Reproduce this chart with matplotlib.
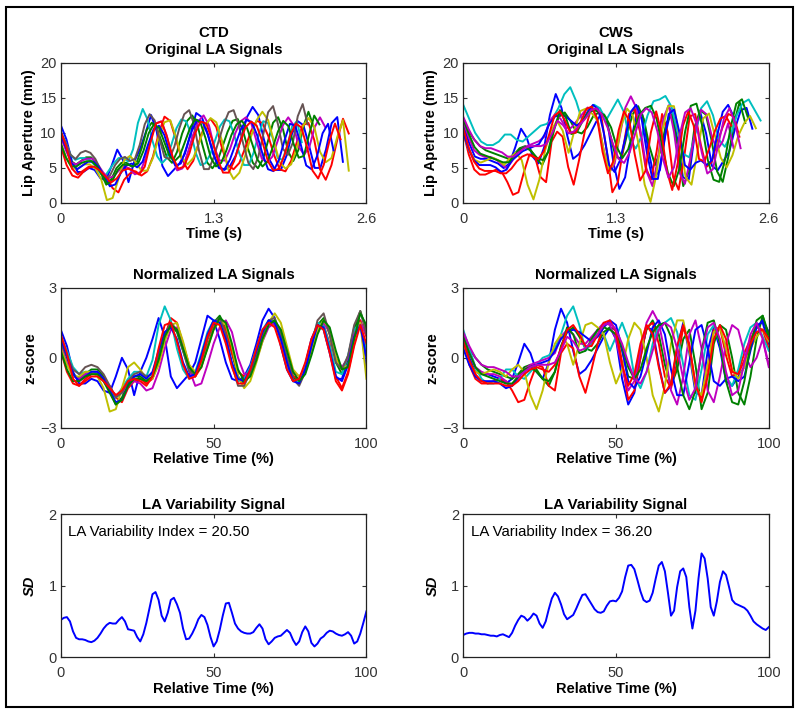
import numpy as np
import matplotlib
matplotlib.use('Agg')
import matplotlib.pyplot as plt
from matplotlib.patches import Rectangle

# relative time grids (percent)
rel_time = np.arange(0, 101, 2)
sd_time = np.arange(0, 101, 1)

# ---- CTD: normalized LA signals (z-score, every 2 %) ----
ctd_blue1 = [1.2, 0.5, -0.6, -1.1, -1.1, -0.9, -1.0, -1.4, -1.5, -0.8,
             0.0, -0.5, -1.6, -0.6, 0.0, 0.8, 1.7, 0.9, -0.8, -1.3,
             -1.0, -0.7, -0.2, 0.8, 1.8, 1.6, 0.8, -0.2, -0.9, -1.0,
             -0.8, -0.3, 0.6, 1.6, 2.1, 1.7, 0.5, -0.5, -1.0, -1.0,
             -0.3, 0.8, 1.4, 1.2, 0.2, -0.9, -0.9, 0.0, 1.3, 1.6, -0.6]
ctd_green1 = [0.7, 0.0, -0.7, -0.9, -0.7, -0.5, -0.5, -0.8, -1.4, -2.0,
              -1.7, -1.1, -0.8, -0.8, -1.0, -0.8, 0.0, 1.0, 1.4, 1.1,
              0.3, -0.5, -0.8, -0.2, 0.8, 1.5, 1.8, 1.3, 0.2, -0.8,
              -1.1, -0.7, 0.1, 0.9, 1.5, 1.6, 1.0, 0.0, -0.8, -1.1,
              -0.6, 0.4, 1.4, 1.7, 1.0, -0.2, -0.7, -0.1, 1.2, 2.0, 1.2]
ctd_red1 = [0.3, -0.6, -1.1, -1.2, -0.9, -0.7, -0.7, -0.9, -1.2, -1.7,
            -1.9, -1.3, -1.0, -0.9, -1.1, -0.9, -0.2, 0.9, 1.7, 1.5,
            0.6, -0.3, -0.8, -0.4, 0.5, 1.3, 1.6, 1.2, 0.2, -0.6,
            -0.8, -0.5, 0.2, 1.0, 1.5, 1.4, 0.8, -0.1, -0.8, -0.9,
            -0.4, 0.5, 1.3, 1.4, 0.6, -0.8, -1.3, -0.6, 0.6, 1.6, 0.9]
ctd_cyan = [0.9, 0.3, -0.4, -0.7, -0.6, -0.6, -0.7, -1.0, -1.4, -1.7,
            -1.3, -0.9, -0.6, -0.6, -0.8, -0.1, 1.4, 2.2, 1.6, 0.4,
            -0.5, -0.9, -0.6, 0.2, 1.1, 1.6, 1.5, 0.8, -0.3, -1.0,
            -0.9, -0.4, 0.4, 1.2, 1.6, 1.5, 0.7, -0.3, -1.0, -1.0,
            -0.3, 0.7, 1.5, 1.4, 0.5, -0.6, -0.7, 0.1, 1.2, 1.5, 0.3]
ctd_magenta = [0.5, -0.2, -0.8, -0.9, -0.7, -0.6, -0.6, -0.9, -1.3, -1.6,
               -1.5, -1.2, -1.0, -1.1, -1.4, -1.3, -0.6, 0.4, 1.2, 1.3,
               0.6, -0.5, -1.2, -1.1, -0.3, 0.6, 1.3, 1.6, 1.1, 0.0,
               -0.7, -0.7, -0.1, 0.7, 1.3, 1.5, 1.2, 0.3, -0.6, -0.8,
               -0.5, 0.3, 1.1, 1.5, 1.1, 0.0, -0.4, 0.0, 1.0, 1.5, 1.0]
ctd_yellow = [0.4, -0.3, -0.8, -0.8, -0.6, -0.6, -0.8, -1.3, -2.3, -2.2,
              -1.3, -0.4, -0.2, -0.5, -0.9, -0.9, -0.3, 0.7, 1.4, 1.5,
              0.7, -0.3, -0.6, -0.3, 0.4, 1.2, 1.6, 1.4, 0.5, -0.8,
              -1.3, -1.0, -0.2, 0.7, 1.5, 1.9, 1.5, 0.5, -0.5, -0.8,
              -0.6, 0.2, 1.2, 1.6, 1.2, 0.0, -0.5, -0.3, 0.7, 1.5, -0.9]
ctd_gray = [0.6, 0.1, -0.5, -0.7, -0.4, -0.3, -0.4, -0.7, -1.2, -1.7,
            -1.5, -1.0, -0.7, -0.6, -0.8, -0.7, 0.0, 1.0, 1.5, 1.2,
            0.3, -0.6, -0.7, -0.1, 0.8, 1.5, 1.7, 1.0, -0.3, -1.2,
            -1.2, -0.6, 0.2, 1.0, 1.6, 1.7, 1.0, 0.0, -0.9, -1.2,
            -0.6, 0.5, 1.6, 1.9, 1.0, -0.2, -0.5, 0.1, 1.4, 2.0, 1.0]
ctd_blue2 = [0.8, 0.1, -0.7, -1.0, -0.8, -0.6, -0.6, -0.9, -1.4, -1.9,
             -1.8, -1.2, -0.8, -0.7, -0.9, -0.6, 0.3, 1.1, 1.3, 0.8,
             -0.2, -0.8, -0.7, 0.1, 1.0, 1.6, 1.5, 0.8, -0.2, -0.9,
             -1.0, -0.5, 0.3, 1.1, 1.6, 1.5, 0.8, -0.2, -1.0, -1.1,
             -0.5, 0.5, 1.4, 1.3, 0.3, -0.8, -1.0, -0.3, 0.9, 1.4, 0.0]
ctd_green2 = [0.3, -0.5, -1.0, -1.0, -0.8, -0.7, -0.7, -1.0, -1.5, -2.0,
              -1.8, -1.2, -0.9, -0.9, -1.0, -0.8, -0.1, 0.9, 1.4, 1.2,
              0.4, -0.4, -0.7, -0.4, 0.4, 1.2, 1.7, 1.5, 0.6, -0.5,
              -1.0, -0.8, -0.1, 0.8, 1.4, 1.6, 1.2, 0.3, -0.6, -1.0,
              -0.7, 0.1, 1.0, 1.6, 1.3, 0.3, -0.5, -0.4, 0.8, 1.9, 1.4]
ctd_red2 = [1.0, 0.2, -0.9, -1.2, -1.0, -0.8, -0.8, -1.0, -1.3, -1.6,
            -1.4, -1.0, -0.9, -1.0, -1.2, -0.8, 0.4, 1.4, 1.5, 0.7,
            -0.3, -0.9, -0.8, -0.1, 0.9, 1.5, 1.4, 0.6, -0.4, -1.1,
            -1.1, -0.5, 0.4, 1.2, 1.5, 1.3, 0.5, -0.5, -1.0, -0.9,
            -0.2, 0.8, 1.4, 1.2, 0.2, -1.0, -1.4, -0.7, 0.5, 1.4, 0.6]

# CTD raw scaling per token: duration (s), mean and SD of lip aperture (mm)
ctd_dur = [2.40, 2.15, 2.45, 2.05, 2.25, 2.45, 2.10, 2.32, 2.20, 2.38]
ctd_mean = [7.6, 7.8, 7.2, 7.9, 8.0, 7.3, 8.3, 7.5, 7.7, 7.4]
ctd_sdev = [2.9, 2.6, 3.0, 2.5, 2.8, 3.0, 2.9, 2.7, 2.5, 2.8]

# ---- CWS: normalized LA signals ----
cws_blue1 = [0.8, 0.0, -0.6, -0.7, -0.7, -0.8, -0.9, -1.1, -0.9, -0.2,
             0.6, 0.2, -0.6, -0.9, -0.2, 1.2, 2.1, 1.5, 0.3, -0.7,
             -0.5, -0.1, 0.4, 0.9, 1.3, 0.8, -0.9, -2.0, -1.5, 0.0,
             1.3, 1.2, -0.3, -1.5, -1.2, 0.4, 1.5, 0.2, -1.5, -1.6,
             0.3, 1.3, 0.4, -1.0, -1.2, -0.8, -0.4, 0.6, 1.4, 1.5, 0.6]
cws_green1 = [1.0, 0.4, 0.0, -0.3, -0.5, -0.6, -0.7, -0.8, -0.9, -0.7,
              -0.4, -0.3, -0.5, -0.9, -1.2, -0.6, 0.5, 1.1, 1.3, 0.9,
              0.4, 0.3, 0.6, 1.1, 1.3, 1.2, 0.3, -0.8, -0.9, 0.2,
              1.2, 1.6, 1.0, -0.3, -1.2, -0.5, 0.8, 1.2, -0.3, -2.2,
              -1.5, 0.6, 1.4, 1.2, 0.0, -1.5, -2.0, -0.8, 0.8, 1.8, 0.8]
cws_red1 = [0.6, -0.3, -0.9, -1.1, -1.1, -1.0, -0.9, -1.0, -1.4, -1.9,
            -1.8, -1.0, -0.3, -0.4, -1.2, -1.4, 0.2, 0.6, 0.4, -0.8,
            -1.5, -0.5, 0.6, 1.4, 1.5, 1.2, -0.2, -1.8, -1.4, 0.0,
            1.3, 1.5, 0.6, -0.8, -1.3, -0.2, 1.3, 0.6, -1.2, -1.7,
            -0.4, 1.2, 1.3, 0.1, -0.8, -0.6, 0.2, 0.8, 1.3, 1.2, 0.4]
cws_cyan = [1.2, 0.4, -0.4, -0.9, -1.1, -1.1, -0.9, -0.5, -0.5, -0.8,
            -0.9, -0.6, -0.3, 0.0, 0.1, 0.4, 1.0, 1.8, 2.2, 1.4,
            0.3, 0.6, 1.2, 1.0, 0.3, 0.9, 1.5, 0.8, -0.8, -1.3,
            -0.6, 0.6, 1.4, 1.5, 1.7, 1.1, -0.3, -1.6, -1.8, -0.5,
            1.0, 1.4, 0.6, -0.8, -1.2, -0.5, 0.6, 1.3, 1.5, 0.9, 0.3]
cws_magenta1 = [0.9, 0.2, -0.4, -0.6, -0.7, -0.7, -0.8, -1.0, -1.2, -0.9,
                -0.5, -0.3, -0.2, -0.1, 0.0, 0.2, 0.9, 1.2, 1.0, 0.6,
                0.6, 0.9, 1.2, 1.5, 1.4, 0.8, -0.4, -1.4, -1.0, 0.3,
                1.5, 2.0, 1.5, 0.2, -1.4, -2.0, -0.8, 1.0, 1.6, 0.4,
                -1.4, -1.9, -0.8, 0.6, 1.4, 1.2, 0.2, -0.4, 0.0, 0.8, -0.3]
cws_yellow = [0.5, -0.2, -0.6, -0.7, -0.6, -0.5, -0.6, -0.8, -0.5, -0.3,
              -0.6, -1.6, -2.2, -1.4, -0.2, 0.6, 1.0, 0.6, -0.3, 0.6,
              1.4, 1.5, 1.3, 1.0, -0.2, -1.1, -0.5, 0.8, 1.5, 1.2,
              0.0, -1.6, -2.3, -1.2, 0.6, 1.6, 1.6, 0.3, -1.3, -1.6,
              -0.3, 1.1, 1.3, 0.4, -0.5, -0.9, -0.4, 0.4, 0.9, 1.2, 0.7]
cws_blue2 = [0.4, -0.3, -0.8, -1.0, -1.0, -1.0, -1.1, -1.3, -1.2, -0.8,
             -0.6, -0.4, -0.3, -0.2, -0.1, 0.3, 0.8, 1.1, 1.2, 1.1,
             0.9, 0.7, 0.9, 1.3, 1.6, 1.4, 0.4, -1.0, -1.3, -0.8,
             0.2, 1.3, 1.6, 1.0, -0.5, -1.6, -1.6, -0.2, 1.2, 1.4,
             0.4, -1.0, -1.2, -0.9, -0.8, -1.0, -0.8, 0.3, 1.3, 1.6, 1.1]
cws_green2 = [0.9, 0.2, -0.4, -0.7, -0.8, -0.9, -1.0, -1.1, -1.1, -0.8,
              -0.5, -0.4, -0.6, -0.9, -1.0, -0.6, 0.4, 1.3, 1.0, 0.2,
              0.3, 0.8, 1.2, 1.3, 1.2, 1.0, 0.5, -0.4, -0.9, -0.5,
              0.4, 1.1, 1.4, 1.5, 0.9, -0.4, -1.6, -2.2, -1.4, 0.3,
              1.5, 1.6, 0.6, -1.0, -1.9, -2.0, -1.0, 0.5, 1.6, 1.8, 1.0]
cws_red2 = [0.7, -0.1, -0.7, -1.0, -1.1, -1.1, -1.1, -1.2, -1.2, -1.0,
            -0.7, -0.5, -0.4, -0.5, -0.6, -0.3, 0.4, 1.2, 1.4, 1.0,
            0.5, 0.5, 1.0, 1.5, 1.6, 1.1, -0.3, -1.2, -0.7, 0.6,
            1.4, 1.0, -0.4, -1.5, -1.1, 0.5, 1.4, 0.5, -1.1, -1.9,
            -0.8, 0.8, 1.4, 0.8, -0.6, -0.7, -0.1, 0.6, 1.1, 1.2, 0.8]
cws_magenta2 = [1.1, 0.5, 0.0, -0.3, -0.4, -0.4, -0.5, -0.6, -0.8, -0.8,
                -0.6, -0.4, -0.3, -0.3, -0.3, -0.2, 0.3, 0.9, 0.7, 0.3,
                0.4, 0.7, 1.0, 1.4, 1.5, 1.2, 0.6, -0.2, -0.9, -1.1,
                -0.6, 0.3, 1.2, 1.5, 1.3, 0.4, -0.9, -1.8, -1.3, 0.2,
                1.3, 1.5, 0.8, -0.6, -1.6, -1.4, -0.2, 1.0, 1.5, 0.8, -0.4]

cws_dur = [2.46, 2.40, 2.35, 2.53, 2.30, 2.49, 2.30, 2.42, 2.28, 2.36]
cws_mean = [8.6, 9.0, 8.0, 11.0, 8.8, 8.2, 8.7, 9.2, 8.3, 9.0]
cws_sdev = [3.3, 3.0, 3.6, 2.5, 3.2, 3.5, 3.3, 3.1, 3.4, 3.0]

# ---- LA variability signals (SD across tokens, every 1 %) ----
ctd_sd = [0.52, 0.55, 0.56, 0.50, 0.36, 0.27, 0.25, 0.25, 0.24, 0.22,
          0.21, 0.23, 0.27, 0.33, 0.40, 0.45, 0.48, 0.47, 0.47, 0.52,
          0.56, 0.50, 0.39, 0.38, 0.37, 0.28, 0.22, 0.32, 0.48, 0.68,
          0.88, 0.91, 0.80, 0.58, 0.50, 0.62, 0.80, 0.83, 0.74, 0.62,
          0.40, 0.25, 0.26, 0.33, 0.42, 0.53, 0.59, 0.56, 0.45, 0.28,
          0.15, 0.22, 0.38, 0.58, 0.75, 0.76, 0.62, 0.47, 0.40, 0.36,
          0.34, 0.33, 0.33, 0.35, 0.41, 0.46, 0.40, 0.25, 0.18, 0.22,
          0.27, 0.29, 0.30, 0.34, 0.38, 0.34, 0.24, 0.17, 0.22, 0.35,
          0.43, 0.36, 0.20, 0.15, 0.19, 0.26, 0.29, 0.34, 0.37, 0.36,
          0.33, 0.31, 0.30, 0.32, 0.35, 0.30, 0.19, 0.22, 0.33, 0.48, 0.64]
cws_sd = [0.31, 0.33, 0.34, 0.34, 0.33, 0.33, 0.32, 0.32, 0.31, 0.30,
          0.30, 0.29, 0.31, 0.32, 0.30, 0.28, 0.34, 0.44, 0.52, 0.58,
          0.56, 0.51, 0.55, 0.61, 0.58, 0.47, 0.41, 0.50, 0.67, 0.82,
          0.90, 0.85, 0.74, 0.60, 0.53, 0.56, 0.59, 0.68, 0.78, 0.87,
          0.88, 0.81, 0.74, 0.67, 0.63, 0.62, 0.64, 0.72, 0.78, 0.79,
          0.78, 0.83, 0.92, 1.12, 1.28, 1.29, 1.23, 1.08, 0.92, 0.80,
          0.77, 0.79, 0.90, 1.10, 1.28, 1.33, 1.20, 0.90, 0.58, 0.65,
          0.98, 1.20, 1.24, 1.12, 0.70, 0.40, 0.65, 1.10, 1.45, 1.38,
          1.10, 0.70, 0.58, 0.78, 1.05, 1.20, 1.15, 0.98, 0.80, 0.75,
          0.73, 0.71, 0.69, 0.65, 0.58, 0.50, 0.46, 0.43, 0.40, 0.38, 0.42]

ctd_index = 20.50
cws_index = 36.20

# MATLAB style colours
mb = (0, 0, 1); mg = (0, 0.5, 0); mr = (1, 0, 0); mc = (0, 0.75, 0.75)
mm = (0.75, 0, 0.75); my = (0.75, 0.75, 0); mk = (0.4, 0.33, 0.33)

ctd_lines = [ctd_blue1, ctd_green1, ctd_red1, ctd_cyan, ctd_magenta,
             ctd_yellow, ctd_gray, ctd_blue2, ctd_green2, ctd_red2]
ctd_cols = [mb, mg, mr, mc, mm, my, mk, mb, mg, mr]
cws_lines = [cws_blue1, cws_green1, cws_red1, cws_cyan, cws_magenta1,
             cws_yellow, cws_blue2, cws_green2, cws_red2, cws_magenta2]
cws_cols = [mb, mg, mr, mc, mm, my, mb, mg, mr, mm]

plt.rcParams['font.family'] = ['Liberation Sans', 'DejaVu Sans']
plt.rcParams['font.size'] = 10.5
plt.rcParams['xtick.direction'] = 'in'
plt.rcParams['ytick.direction'] = 'in'
plt.rcParams['xtick.top'] = True
plt.rcParams['ytick.right'] = True
plt.rcParams['xtick.major.size'] = 3
plt.rcParams['ytick.major.size'] = 3
plt.rcParams['xtick.major.pad'] = 6.5
plt.rcParams['ytick.major.pad'] = 3
plt.rcParams['xtick.color'] = '#333333'
plt.rcParams['ytick.color'] = '#333333'
plt.rcParams['xtick.labelsize'] = 10.5
plt.rcParams['ytick.labelsize'] = 10.5
plt.rcParams['axes.linewidth'] = 0.9
plt.rcParams['axes.edgecolor'] = '#222222'

fig = plt.figure(figsize=(8.0, 7.12), dpi=100)

lefts = [0.076, 0.579]
w = 0.382
h_top = 0.197
ax_top = [fig.add_axes([l, 0.715, w, h_top]) for l in lefts]
ax_mid = [fig.add_axes([l, 0.399, w, h_top]) for l in lefts]
ax_bot = [fig.add_axes([l, 0.077, w, 0.201]) for l in lefts]

groups = [('CTD', ctd_lines, ctd_cols, ctd_dur, ctd_mean, ctd_sdev, ctd_sd, ctd_index),
          ('CWS', cws_lines, cws_cols, cws_dur, cws_mean, cws_sdev, cws_sd, cws_index)]

tfs = 10.8  # title size
lfs = 10.5  # axis label size

for i, (name, lines, cols, dur, mean, sdev, sdsig, idx) in enumerate(groups):
    # original signals in real time
    ax = ax_top[i]
    for z, c, d, m, s in zip(lines, cols, dur, mean, sdev):
        t = rel_time / 100.0 * d
        ax.plot(t, m + s * np.array(z), color=c, lw=1.4)
    ax.set_xlim(0, 2.6)
    ax.set_ylim(0, 20)
    ax.set_xticks([0, 1.3, 2.6])
    ax.set_xticklabels(['0', '1.3', '2.6'])
    ax.set_yticks([0, 5, 10, 15, 20])
    ax.set_title(name + '\nOriginal LA Signals', fontweight='bold', fontsize=tfs,
                 linespacing=1.3, pad=6)
    ax.set_xlabel('Time (s)', fontweight='bold', fontsize=lfs, labelpad=1)
    ax.set_ylabel('Lip Aperture (mm)', fontweight='bold', fontsize=lfs, labelpad=3)

    # normalized signals
    ax = ax_mid[i]
    for z, c in zip(lines, cols):
        ax.plot(rel_time, z, color=c, lw=1.4)
    ax.set_xlim(0, 100)
    ax.set_ylim(-3, 3)
    ax.set_xticks([0, 50, 100])
    ax.set_yticks([-3, 0, 3])
    ax.set_title('Normalized LA Signals', fontweight='bold', fontsize=tfs, pad=6)
    ax.set_xlabel('Relative Time (%)', fontweight='bold', fontsize=lfs, labelpad=1)
    ax.set_ylabel('z-score', fontweight='bold', fontsize=lfs, labelpad=2)

    # variability signal
    ax = ax_bot[i]
    ax.plot(sd_time, sdsig, color=mb, lw=1.4)
    ax.set_xlim(0, 100)
    ax.set_ylim(0, 2)
    ax.set_xticks([0, 50, 100])
    ax.set_yticks([0, 1, 2])
    ax.set_title('LA Variability Signal', fontweight='bold', fontsize=tfs, pad=4)
    ax.set_xlabel('Relative Time (%)', fontweight='bold', fontsize=lfs, labelpad=1)
    ax.set_ylabel('SD', fontweight='bold', fontstyle='italic', fontsize=lfs,
                  labelpad=8)
    ax.text(0.025, 0.925, 'LA Variability Index = %.2f' % idx, fontsize=10.8,
            transform=ax.transAxes, ha='left', va='top')

# frame around the whole figure
fig.patches.append(Rectangle((0.0075, 0.007), 0.984, 0.983, transform=fig.transFigure,
                             fill=False, lw=1.5, ec='k'))

plt.savefig('out.png', dpi=100)
